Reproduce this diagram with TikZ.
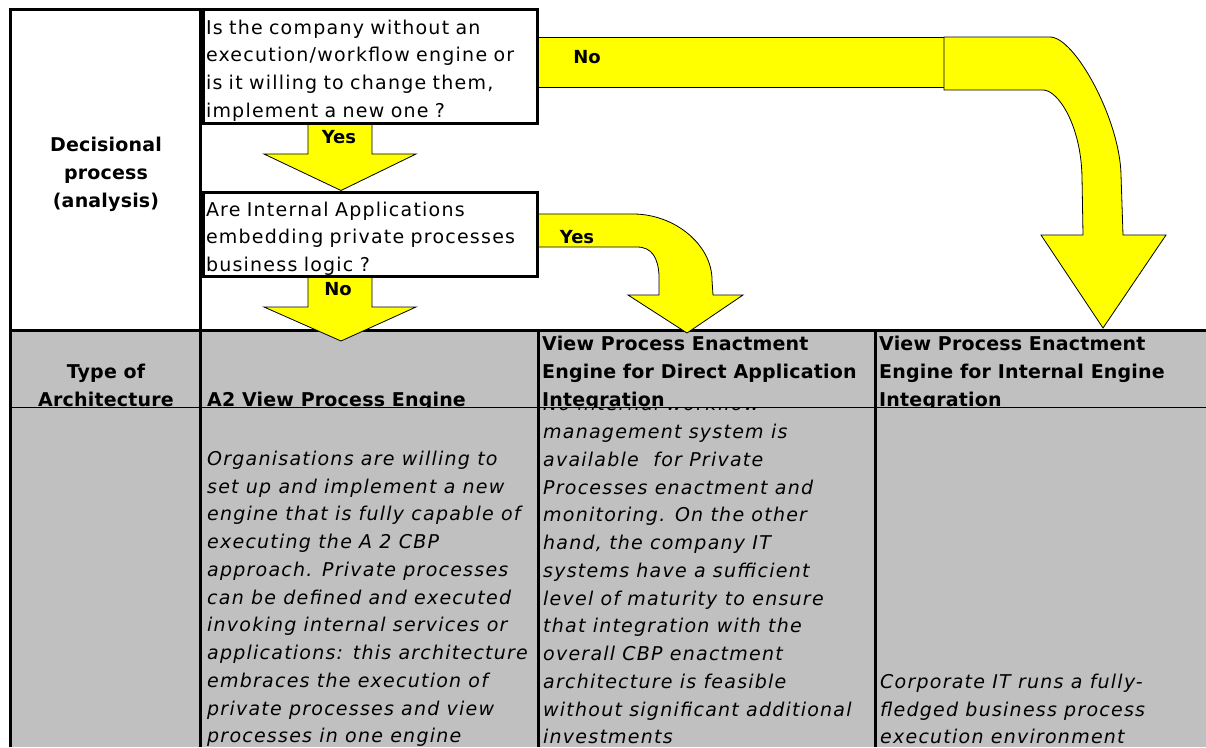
\documentclass[tikz,border=0pt]{standalone}
\usepackage{fontspec}
\setmainfont{DejaVu Sans}
\newfontfamily\cellfont[LetterSpace=6.5]{DejaVu Sans}
\newfontfamily\headfont[LetterSpace=1]{DejaVu Sans}
\usetikzlibrary{positioning}
\definecolor{cellgray}{HTML}{C0C0C0}
\definecolor{flowyellow}{HTML}{FFFF00}
\newcommand{\qstrut}{\rule{0pt}{23.5pt}}
\tikzset{
  question/.style={rectangle, draw, line width=3pt, fill=white, anchor=north west,
                   text width=328pt, inner xsep=3pt, inner ysep=0pt, align=left,
                   font=\cellfont\fontsize{19}{27.75}\selectfont},
  rowhead/.style={inner sep=0pt, align=center, anchor=north, font=\headfont\bfseries\fontsize{19}{28}\selectfont},
  colhead/.style={inner sep=0pt, align=left, anchor=north west, font=\headfont\bfseries\fontsize{19}{28}\selectfont},
  celltext/.style={inner sep=0pt, align=left, anchor=north west,
                   font=\cellfont\itshape\fontsize{19}{27.75}\selectfont},
  flow/.style={fill=flowyellow, draw=black, line width=0.8pt},
  flowlabel/.style={inner sep=0pt, font=\bfseries\fontsize{18}{20}\selectfont},
  cellrule/.style={line width=3pt},
  thinrule/.style={line width=1pt},
}

\begin{document}
\begin{tikzpicture}[x=1pt, y=-1pt]
  \useasboundingbox (0,0) rectangle (1206,747);
  \fill[cellgray] (10,330) rectangle (1206,747);

  % row and column titles
  \node[rowhead] (decision) at (106,131.6) {\strut Decisional\\process\\(analysis)};
  \begin{scope}
    \clip (10,330) rectangle (1206,407);
    \node[rowhead] (archtype) at (106,358.6) {\strut Type of\\Architecture};
    \node[colhead] (hdA2) at (207,386.6) {\strut A2 View Process Engine};
    \node[colhead] (hdDirect) at (542,330.6) {\strut View Process Enactment\\Engine for Direct Application\\Integration};
    \node[colhead] (hdInternal) at (879,330.6) {\strut View Process Enactment\\Engine for Internal Engine\\Integration};
  \end{scope}

  \node[celltext] (bodyA2) at (207,445.8) {\strut Organisations are willing to\\set up and implement a new\\engine that is fully capable of\\executing the A 2 CBP\\approach. Private processes\\can be defined and executed\\invoking internal services or\\applications: this architecture\\embraces the execution of\\private processes and view\\processes in one engine};
  \begin{scope}
    \clip (538,407) rectangle (875,747);
    \node[celltext] (bodyDirect) at (543,391.3) {\strut No internal workflow\\management system is\\available\ \ for Private\\Processes enactment and\\monitoring. On the other\\hand, the company IT\\systems have a sufficient\\level of maturity to ensure\\that integration with the\\overall CBP enactment\\architecture is feasible\\without significant additional\\investments};
  \end{scope}
  \node[celltext] (bodyInternal) at (880,668.8) {\strut Corporate IT runs a fully-\\fledged business process\\execution environment};

  \draw[cellrule] (10,747) -- (10,9) -- (200,9) -- (200,747);
  \draw[cellrule] (10,330) -- (1206,330);
  \draw[cellrule] (538,330) -- (538,747);
  \draw[cellrule] (875,330) -- (875,747);
  \draw[thinrule] (10,407) -- (1206,407);

  % decision boxes
  \node[question, minimum height=114pt] (q1) at (201.5,7.5) {\qstrut Is the company without an\\execution/workflow engine or\\is it willing to change them,\\implement a new one ?};
  \node[question, minimum height=84pt] (q2) at ([yshift=-66pt]q1.south west) {\qstrut Are Internal Applications\\embedding private processes\\business logic ?};

  % yellow arrows
  \draw[flow] (308,0 |- q1.south) -- (372,0 |- q1.south) -- (372,154) -- (416,154) -- (341,0 |- q2.north) -- (264,154) -- (308,154) -- cycle;
  \draw[flow] (308,0 |- q2.south) -- (372,0 |- q2.south) -- (372,307) -- (416,307) -- (341,341) -- (264,307) -- (308,307) -- cycle;
  \draw[flow] (q1.east |- 0,37) rectangle (944,87);
  \draw[flow] (944,37) -- (1050,37) .. controls (1075,37) and (1120,120) .. (1121,175) -- (1123,235) -- (1166,235) -- (1103,328) -- (1041,235) -- (1083,235) -- (1082,177) .. controls (1081,125) and (1058,90) .. (1043,90) -- (944,90) -- cycle;
  \draw[flow] (q2.east |- 0,214) -- (633,214) .. controls (675,214) and (712,245) .. (712,280) -- (713,295) -- (743,295) -- (687,333) -- (628,295) -- (659,295) -- (659,275) .. controls (658,258) and (652,247) .. (637,247) -- (q2.east |- 0,247) -- cycle;

  \node[flowlabel] (yesDown) at (339,137) {Yes};
  \node[flowlabel] (noDown) at (338,289) {No};
  \node[flowlabel] (noRight) at (587,57) {No};
  \node[flowlabel] (yesRight) at (577,237) {Yes};
\end{tikzpicture}
\end{document}
